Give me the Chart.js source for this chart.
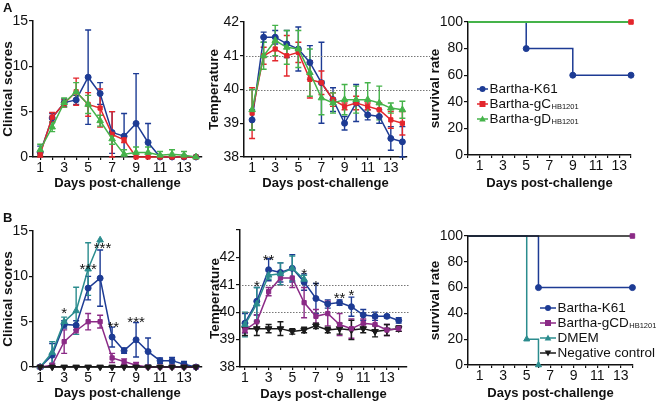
<!DOCTYPE html>
<html>
<head>
<meta charset="utf-8">
<script src="https://cdn.jsdelivr.net/npm/chart.js@4.4.1/dist/chart.umd.min.js"></script>
<style>
  html, body { margin: 0; padding: 0; background: #fff; }
  #wrap { position: relative; width: 656px; height: 403px; overflow: hidden; font-family: "Liberation Sans", Arial, sans-serif; }
  #wrap canvas { position: absolute; left: 0; top: 0; }
  .tag { position: absolute; font-weight: bold; font-size: 13px; color: #111; }
</style>
</head>
<body>
<div id="wrap">
  <canvas id="a1" width="656" height="403"></canvas>
  <canvas id="a2" width="656" height="403"></canvas>
  <canvas id="a3" width="656" height="403"></canvas>
  <canvas id="b1" width="656" height="403"></canvas>
  <canvas id="b2" width="656" height="403"></canvas>
  <canvas id="b3" width="656" height="403"></canvas>
  <div class="tag" style="left:3px;top:0px">A</div>
  <div class="tag" style="left:3px;top:210px">B</div>
</div>
<script>
// ---- data ----
const days = [1, 2, 3, 4, 5, 6, 7, 8, 9, 10, 11, 12, 13, 14];
const dmemDays = [1, 2, 3, 4, 5, 6];

// A: clinical scores
const clinK61 = [0.5, 4.3, 6.0, 6.3, 8.8, 7.0, 2.7, 2.3, 3.7, 1.6, 0, 0, 0, 0];
const clinK61Err = [0.7, 0.5, 0.4, 0.5, 5.2, 1.2, 2.3, 2.5, 5.5, 2.1, 0, 0, 0, 0];
const clinGC = [0.3, 4.4, 5.9, 7.2, 5.8, 5.4, 2.5, 1.9, 0, 0, 0, 0, 0, 0];
const clinGCErr = [0.3, 0.5, 0.4, 1.5, 1.3, 2.1, 2.5, 0.3, 0, 0, 0, 0, 0, 0];
const clinGD = [0.8, 3.3, 6.0, 7.2, 5.8, 4.0, 2.0, 0.3, 0.5, 0.5, 0.2, 0.3, 0.2, 0];
const clinGDErr = [0.6, 0.5, 0.5, 1.0, 1.0, 0.6, 0.6, 0.5, 0.6, 0.6, 0.4, 0.5, 0.4, 0];

// A: temperature
const tempK61 = [39.1, 41.55, 41.55, 41.35, 41.2, 40.8, 40.2, 39.7, 39.0, 39.6, 39.25, 39.2, 38.55, 38.45];
const tempK61Err = [0.3, 0.15, 0.2, 0.4, 0.65, 0.5, 1.2, 0.35, 0.2, 0.55, 0.15, 0.2, 0.35, 0.45];
const tempGC = [39.3, 41.0, 41.2, 41.0, 41.1, 40.3, 40.2, 39.7, 39.5, 39.6, 39.5, 39.4, 39.1, 39.0];
const tempGCErr = [0.75, 0.25, 0.35, 0.6, 0.3, 0.55, 0.35, 0.2, 0.1, 0.2, 0.1, 0.2, 0.25, 0.35];
const tempGD = [39.4, 41.0, 41.45, 41.25, 41.2, 40.5, 39.75, 39.6, 39.7, 39.7, 39.7, 39.6, 39.45, 39.4];
const tempGDErr = [0.6, 0.4, 0.45, 0.5, 0.55, 0.7, 0.5, 0.3, 0.45, 0.4, 0.5, 0.5, 0.15, 0.25];

// A: survival
const survK61Days = [0, 5, 9, 14];
const survK61 = [100, 80, 60, 60];
const survGCDays = [0, 14];
const survGC = [100, 100];
const survGDDays = [0, 14];
const survGD = [100, 100];

// B: clinical scores
const clinBK61 = [0, 1.3, 4.7, 4.6, 8.7, 9.8, 3.3, 1.8, 3.0, 1.7, 0.7, 0.7, 0.3, 0];
const clinBK61Err = [0, 1.3, 0.4, 0.5, 1.3, 3.1, 1.1, 0.3, 1.9, 1.5, 0.3, 0.35, 0.3, 0];
const clinGCD = [0, 0.2, 2.8, 4.0, 5.0, 5.0, 1.0, 0.6, 0.2, 0, 0, 0, 0, 0];
const clinGCDErr = [0, 0.2, 1.3, 0.4, 0.9, 0.7, 0.5, 0.3, 0.3, 0, 0, 0, 0, 0];
const clinDMEM = [0, 1.6, 5.0, 6.2, 10.8, 14.0];
const clinDMEMErr = [0, 1.2, 0.5, 2.6, 2.9, 0];
const clinNeg = [0, 0, 0, 0, 0, 0, 0, 0, 0, 0, 0, 0, 0, 0];

// B: temperature
const tempBK61 = [39.6, 40.4, 41.55, 41.45, 41.6, 41.1, 40.5, 40.3, 40.35, 40.2, 39.9, 39.85, 39.85, 39.7];
const tempBK61Err = [0.35, 0.5, 0.4, 0.35, 0.5, 0.3, 0.55, 0.15, 0.1, 0.35, 0.2, 0.15, 0.05, 0.1];
const tempGCD = [39.35, 39.65, 40.75, 41.25, 41.25, 40.35, 39.85, 39.95, 39.55, 39.4, 39.6, 39.55, 39.35, 39.4];
const tempGCDErr = [0.1, 0.25, 0.15, 0.25, 0.35, 0.55, 0.25, 0.45, 0.4, 0.35, 0.15, 0.25, 0.2, 0.1];
const tempDMEM = [39.55, 40.3, 41.35, 41.4, 41.6, 41.2];
const tempDMEMErr = [0.45, 0.6, 0.15, 0.4, 0.45, 0.15];
const tempNeg = [39.4, 39.4, 39.4, 39.4, 39.3, 39.35, 39.5, 39.35, 39.4, 39.35, 39.4, 39.3, 39.35, 39.4];
const tempNegErr = [0.25, 0.25, 0.15, 0.25, 0.1, 0.1, 0.1, 0.1, 0.2, 0.35, 0.15, 0.2, 0.2, 0.1];

// B: survival
const survBK61Days = [0, 6, 14];
const survBK61 = [100, 60, 60];
const survGCDDays = [0, 14];
const survGCD = [100, 100];
const survDMEMDays = [0, 5, 6];
const survDMEM = [100, 20, 0];
const survNegDays = [0, 14];
const survNeg = [100, 100];

// significance marks (day, value at glyph centre, text)
const starsB1Days = [3, 5, 6.2, 7.1, 9];
const starsB1Vals = [6.3, 11.2, 13.5, 4.85, 5.4];
const starsB1Text = ['*', '***', '***', '**', '***'];
const starsB2Days = [2, 3, 6, 7, 9, 10];
const starsB2Vals = [41.07, 42.05, 41.54, 41.07, 40.66, 40.74];
const starsB2Text = ['*', '**', '*', '*', '**', '*'];

const refTemps = [40, 41];

// ---- styling ----
const BLUE = '#1d3b94';
const RED = '#e3262c';
const GREEN = '#45b34a';
const PURPLE = '#8b2a86';
const TEAL = '#2b8c8e';
const BLACK = '#1a1a1a';
const INK = '#111';

Chart.defaults.font.family = '"Liberation Sans", Arial, sans-serif';
Chart.defaults.color = INK;

function marker(ctx, shape, x, y, r, rot) {
  ctx.beginPath();
  if (shape === 'rect') {
    ctx.rect(x - r, y - r, 2 * r, 2 * r);
  } else if (shape === 'triangle') {
    const s = rot ? -1 : 1;
    ctx.moveTo(x, y - s * r * 1.2);
    ctx.lineTo(x + r * 1.1, y + s * r * 0.8);
    ctx.lineTo(x - r * 1.1, y + s * r * 0.8);
    ctx.closePath();
  } else {
    ctx.arc(x, y, r, 0, Math.PI * 2);
  }
  ctx.fill();
}

const errorBars = {
  id: 'errorBars',
  beforeDatasetsDraw(chart) {
    const { ctx, chartArea, scales: { x, y } } = chart;
    chart.data.datasets.forEach((ds) => {
      if (!ds.errors) return;
      ctx.save();
      ctx.strokeStyle = ds.borderColor;
      ctx.lineWidth = 1.4;
      ds.data.forEach((p, j) => {
        const e = ds.errors[j];
        if (!e) return;
        const px = x.getPixelForValue(p.x);
        const top = y.getPixelForValue(p.y + e);
        const rawBot = y.getPixelForValue(p.y - e);
        const bot = Math.min(rawBot, chartArea.bottom);
        ctx.beginPath();
        ctx.moveTo(px, top); ctx.lineTo(px, bot);
        ctx.moveTo(px - 3, top); ctx.lineTo(px + 3, top);
        if (rawBot <= chartArea.bottom) { ctx.moveTo(px - 3, bot); ctx.lineTo(px + 3, bot); }
        ctx.stroke();
      });
      ctx.restore();
    });
  }
};

const refLines = {
  id: 'refLines',
  beforeDatasetsDraw(chart, args, o) {
    if (!o || !o.values) return;
    const { ctx, chartArea, scales: { x, y } } = chart;
    ctx.save();
    ctx.strokeStyle = '#777';
    ctx.lineWidth = 1;
    ctx.setLineDash([1.5, 1.5]);
    o.values.forEach((v) => {
      const py = Math.round(y.getPixelForValue(v)) + 0.5;
      ctx.beginPath();
      ctx.moveTo(chartArea.left + 2, py);
      ctx.lineTo(x.getPixelForValue(o.to), py);
      ctx.stroke();
    });
    ctx.restore();
  }
};

const stars = {
  id: 'stars',
  afterDatasetsDraw(chart, args, o) {
    if (!o || !o.days) return;
    const { ctx, scales: { x, y } } = chart;
    ctx.save();
    ctx.fillStyle = INK;
    ctx.font = '15px "Liberation Sans", Arial, sans-serif';
    ctx.textAlign = 'center';
    ctx.textBaseline = 'alphabetic';
    o.days.forEach((d, i) => {
      ctx.fillText(o.text[i], x.getPixelForValue(d), y.getPixelForValue(o.vals[i]) + 8.5);
    });
    ctx.restore();
  }
};

const sideLegend = {
  id: 'sideLegend',
  afterDraw(chart, args, o) {
    if (!o || o.x == null) return;
    const ctx = chart.ctx;
    chart.data.datasets.forEach((ds, i) => {
      const y = o.y + i * o.gap;
      ctx.save();
      ctx.strokeStyle = ds.borderColor;
      ctx.fillStyle = ds.borderColor;
      ctx.lineWidth = 1.5;
      ctx.beginPath();
      ctx.moveTo(o.x, y); ctx.lineTo(o.x + o.lineW, y);
      ctx.stroke();
      marker(ctx, ds.pointStyle, o.x + o.lineW / 2, y, 3, ds.pointRotation);
      ctx.fillStyle = INK;
      ctx.textBaseline = 'middle';
      ctx.font = o.size + 'px "Liberation Sans", Arial, sans-serif';
      const tx = o.x + o.lineW + 1.5;
      ctx.fillText(ds.label, tx, y);
      if (ds.sub) {
        const w = ctx.measureText(ds.label).width;
        ctx.font = '7.5px "Liberation Sans", Arial, sans-serif';
        ctx.fillText(ds.sub, tx + w + 0.5, y + 3);
      }
      ctx.restore();
    });
  }
};

function xAxis(min, max, height) {
  return {
    type: 'linear', min, max,
    afterFit(s) { s.height = height; s.paddingLeft = 0; s.paddingRight = 0; },
    border: { color: INK, width: 1.5 },
    grid: { drawOnChartArea: false, tickLength: 3, color: INK, lineWidth: 1.2 },
    ticks: {
      stepSize: 1, includeBounds: false, autoSkip: false, maxRotation: 0, padding: 0,
      color: INK, font: { size: 14 },
      callback: (v) => (v % 2 === 1 ? String(v) : '')
    },
    title: { display: true, text: 'Days post-challenge', color: INK, padding: 0, font: { size: 13, weight: 'bold' } }
  };
}

function yAxis(min, max, step, width, text, hideTop) {
  return {
    type: 'linear', min, max,
    afterFit(s) { s.width = width; s.paddingTop = 0; s.paddingBottom = 0; },
    border: { color: INK, width: 1.5 },
    grid: { drawOnChartArea: false, tickLength: 4, color: INK, lineWidth: 1.2 },
    ticks: {
      stepSize: step, padding: 1, color: INK, font: { size: 14 },
      callback: (v) => (hideTop && v === max ? '' : String(v))
    },
    title: { display: true, text, color: INK, padding: 0, font: { size: 13.5, weight: 'bold' } }
  };
}

function series(label, sub, xs, ys, errs, color, shape, extra) {
  return Object.assign({
    label, sub,
    data: xs.map((d, i) => ({ x: d, y: ys[i] })),
    errors: errs,
    showLine: true,
    borderColor: color,
    backgroundColor: color,
    borderWidth: 1.5,
    pointStyle: shape,
    pointRadius: shape === 'triangle' ? 3.8 : 3,
    pointBorderWidth: 1,
    pointHoverRadius: 3,
    clip: false
  }, extra || {});
}

// box: left of y-axis box, chart area left/right/top/bottom, x-axis box height
function panel(id, box, x, y, datasets, extraPlugins) {
  return new Chart(document.getElementById(id), {
    type: 'scatter',
    data: { datasets },
    options: {
      responsive: false,
      animation: false,
      devicePixelRatio: 1,
      layout: {
        autoPadding: false,
        padding: { left: box.yLeft, top: box.top, right: 656 - box.right, bottom: 403 - box.bottom - box.xh }
      },
      scales: { x, y },
      plugins: Object.assign({ legend: { display: false }, tooltip: { enabled: false } }, extraPlugins)
    },
    plugins: [errorBars, refLines, stars, sideLegend]
  });
}

// A1 clinical scores
panel('a1', { yLeft: 0, top: 21, right: 202, bottom: 157, xh: 34 },
  xAxis(0.4, 14.5, 34), yAxis(0, 15, 5, 33, 'Clinical scores'),
  [
    series('Bartha-K61', '', days, clinK61, clinK61Err, BLUE, 'circle', { order: 2 }),
    series('Bartha-gC', 'HB1201', days, clinGC, clinGCErr, RED, 'rect', { order: 1 }),
    series('Bartha-gD', 'HB1201', days, clinGD, clinGDErr, GREEN, 'triangle', { order: 0 })
  ], {});

// A2 temperature
panel('a2', { yLeft: 206, top: 22, right: 407, bottom: 157, xh: 34 },
  xAxis(0.3, 14.4, 34), yAxis(38, 42, 1, 38, 'Temperature'),
  [
    series('Bartha-K61', '', days, tempK61, tempK61Err, BLUE, 'circle', { order: 2 }),
    series('Bartha-gC', 'HB1201', days, tempGC, tempGCErr, RED, 'rect', { order: 1 }),
    series('Bartha-gD', 'HB1201', days, tempGD, tempGDErr, GREEN, 'triangle', { order: 0 })
  ], { refLines: { values: refTemps, to: 16.4 } });

// A3 survival (gC line lies under gD; only its end marker shows)
panel('a3', { yLeft: 427, top: 22, right: 631, bottom: 155, xh: 36 },
  xAxis(0, 14, 36), yAxis(0, 100, 20, 41, 'survival rate'),
  [
    series('Bartha-K61', '', survK61Days, survK61, null, BLUE, 'circle', { stepped: true, pointRadius: [0, 3, 3, 3], order: 2 }),
    series('Bartha-gC', 'HB1201', survGCDays, survGC, null, RED, 'rect', { showLine: false, pointRadius: [0, 3.2], order: 0 }),
    series('Bartha-gD', 'HB1201', survGDDays, survGD, null, GREEN, 'triangle', { stepped: true, pointRadius: 0, borderWidth: 1.8, order: 1 })
  ], { sideLegend: { x: 477, y: 89, gap: 15, lineW: 11, size: 13.5 } });

// B1 clinical scores
panel('b1', { yLeft: 0, top: 231, right: 202, bottom: 367, xh: 34 },
  xAxis(0.4, 14.5, 34), yAxis(0, 15, 5, 33, 'Clinical scores'),
  [
    series('Bartha-K61', '', days, clinBK61, clinBK61Err, BLUE, 'circle', { order: 3 }),
    series('Bartha-gCD', 'HB1201', days, clinGCD, clinGCDErr, PURPLE, 'rect', { order: 1 }),
    series('DMEM', '', dmemDays, clinDMEM, clinDMEMErr, TEAL, 'triangle', { order: 2 }),
    series('Negative control', '', days, clinNeg, null, BLACK, 'triangle', { pointRotation: 180, order: 0 })
  ], { stars: { days: starsB1Days, vals: starsB1Vals, text: starsB1Text } });

// B2 temperature
panel('b2', { yLeft: 207, top: 230, right: 407, bottom: 367, xh: 35 },
  xAxis(0.58, 14.7, 35), yAxis(38, 43, 1, 33, 'Temperature', true),
  [
    series('Bartha-K61', '', days, tempBK61, tempBK61Err, BLUE, 'circle', { order: 1 }),
    series('Bartha-gCD', 'HB1201', days, tempGCD, tempGCDErr, PURPLE, 'rect', { order: 2 }),
    series('DMEM', '', dmemDays, tempDMEM, tempDMEMErr, TEAL, 'triangle', { order: 0 }),
    series('Negative control', '', days, tempNeg, tempNegErr, BLACK, 'triangle', { pointRotation: 180, order: 3 })
  ], {
    refLines: { values: refTemps, to: 14.9 },
    stars: { days: starsB2Days, vals: starsB2Vals, text: starsB2Text }
  });

// B3 survival (gCD line lies under the control line; only its end marker shows)
panel('b3', { yLeft: 427, top: 236, right: 633, bottom: 365, xh: 36 },
  xAxis(0, 14.05, 36), yAxis(0, 100, 20, 41, 'survival rate'),
  [
    series('Bartha-K61', '', survBK61Days, survBK61, null, BLUE, 'circle', { stepped: true, pointRadius: [0, 3, 3], order: 2 }),
    series('Bartha-gCD', 'HB1201', survGCDDays, survGCD, null, PURPLE, 'rect', { showLine: false, pointRadius: [0, 3.2], order: 0 }),
    series('DMEM', '', survDMEMDays, survDMEM, null, TEAL, 'triangle', { stepped: true, pointRadius: [0, 3.5, 3.5], order: 3 }),
    series('Negative control', '', survNegDays, survNeg, null, BLACK, 'triangle', { stepped: true, pointRadius: 0, pointRotation: 180, order: 1 })
  ], { sideLegend: { x: 540, y: 308, gap: 15, lineW: 16, size: 13.5 } });
</script>
</body>
</html>
